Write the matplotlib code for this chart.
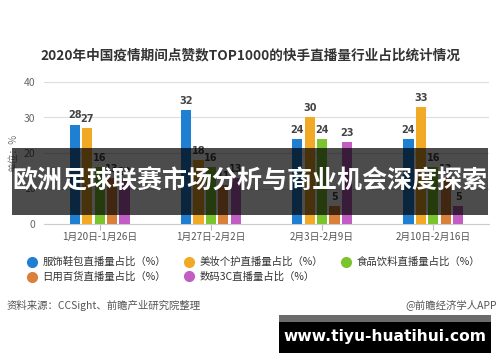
import matplotlib
matplotlib.use("Agg")
import matplotlib.pyplot as plt
from matplotlib.patches import Rectangle
from matplotlib.lines import Line2D
import numpy as np

plt.rcParams['font.family'] = ['Noto Sans CJK SC', 'DejaVu Sans']

title = "2020年中国疫情期间点赞数TOP1000的快手直播量行业占比统计情况"
categories = ["1月20日-1月26日", "1月27日-2月2日", "2月3日-2月9日", "2月10日-2月16日"]
series_names = ["服饰鞋包直播量占比（%）", "美妆个护直播量占比（%）", "食品饮料直播量占比（%）",
                "日用百货直播量占比（%）", "数码3C直播量占比（%）"]
clothing = [28, 32, 24, 24]
beauty = [27, 18, 30, 33]
food = [16, 16, 24, 16]
daily = [13, 11, 5, 13]
digital = [12, 13, 23, 5]
series_values = [clothing, beauty, food, daily, digital]
colors = ["#1f7fd0", "#f2aa26", "#7cc42e", "#d9803a", "#c15dc3"]
yticks = [0, 10, 20, 30, 40]
banner_text = "欧洲足球联赛市场分析与商业机会深度探索"
site_text = "www.tiyu-huatihui.com"

W, H = 500, 362
fig = plt.figure(figsize=(W / 100, H / 100), dpi=100)

def fx(px):
    return px / W

def fy(py):
    return 1 - py / H

ax = fig.add_axes([fx(44), fy(224), fx(489) - fx(44), fy(82) - fy(224)])
x = np.arange(len(categories))
slot = 0.112
bw = 0.092
for i, (vals, c) in enumerate(zip(series_values, colors)):
    pos = x + (i - 2) * slot
    bars = ax.bar(pos, vals, width=bw, color=c, zorder=3)
    for b, v in zip(bars, vals):
        ax.annotate(str(v), (b.get_x() + b.get_width() / 2, v), xytext=(0, 3),
                    textcoords="offset points", ha="center", va="bottom",
                    fontsize=7, fontweight="bold", color="#444444", family="DejaVu Sans")

ax.set_xlim(-0.5, len(categories) - 0.5)
ax.set_ylim(0, 40)
ax.set_yticks(yticks)
ax.set_xticks(x)
ax.set_xticklabels(categories, fontsize=7, color="#555555")
ax.tick_params(axis="y", length=0, labelsize=7.5, labelcolor="#666666", pad=6)
ax.tick_params(axis="x", length=4, color="#bbbbbb", pad=2)
ax.grid(axis="y", color="#dddddd", linewidth=0.8, zorder=0)
for s in ["top", "right", "left"]:
    ax.spines[s].set_visible(False)
ax.spines["bottom"].set_color("#cccccc")
ax.set_ylabel("单位：%", fontsize=7, color="#777777", labelpad=4)

fig.text(fx(250), fy(55), title, ha="center", va="center", fontsize=9.8,
         fontweight="bold", color="#333333")

# legend
handles = [Line2D([], [], marker="o", linestyle="", markersize=7, color=c) for c in colors]
order = [0, 3, 1, 4, 2]
fig.legend([handles[k] for k in order], [series_names[k] for k in order],
           loc="upper left", bbox_to_anchor=(fx(26), fy(257)), ncol=3, frameon=False,
           fontsize=7.5, handletextpad=0.4, columnspacing=1.6, labelspacing=0.45,
           borderaxespad=0, borderpad=0, handlelength=1.2, labelcolor="#333333")

fig.text(fx(7), fy(305), "资料来源：CCSight、前瞻产业研究院整理", ha="left", va="center",
         fontsize=7.5, color="#555555")
fig.text(fx(497), fy(305), "@前瞻经济学人APP", ha="right", va="center",
         fontsize=7.5, color="#555555")

# overlay banner
fig.patches.append(Rectangle((fx(12), fy(215)), fx(488) - fx(12), fy(148) - fy(215),
                             transform=fig.transFigure, facecolor="black", alpha=0.7,
                             zorder=10, edgecolor="none"))
fig.text(fx(250), fy(182), banner_text, ha="center", va="center", fontsize=18,
         fontweight="bold", color="white", zorder=11)

# bottom site box
fig.patches.append(Rectangle((fx(279), fy(322)), fx(491) - fx(279), fy(315) - fy(322),
                             transform=fig.transFigure, facecolor="#6b6b6b",
                             zorder=10, edgecolor="none"))
fig.patches.append(Rectangle((fx(279), fy(353)), fx(491) - fx(279), fy(322) - fy(353),
                             transform=fig.transFigure, facecolor="black",
                             zorder=10, edgecolor="none"))
fig.text(fx(385), fy(337), site_text, ha="center", va="center", fontsize=11.2,
         fontweight="bold", color="white", family="DejaVu Sans", zorder=11)

fig.savefig("out.png", dpi=100)
